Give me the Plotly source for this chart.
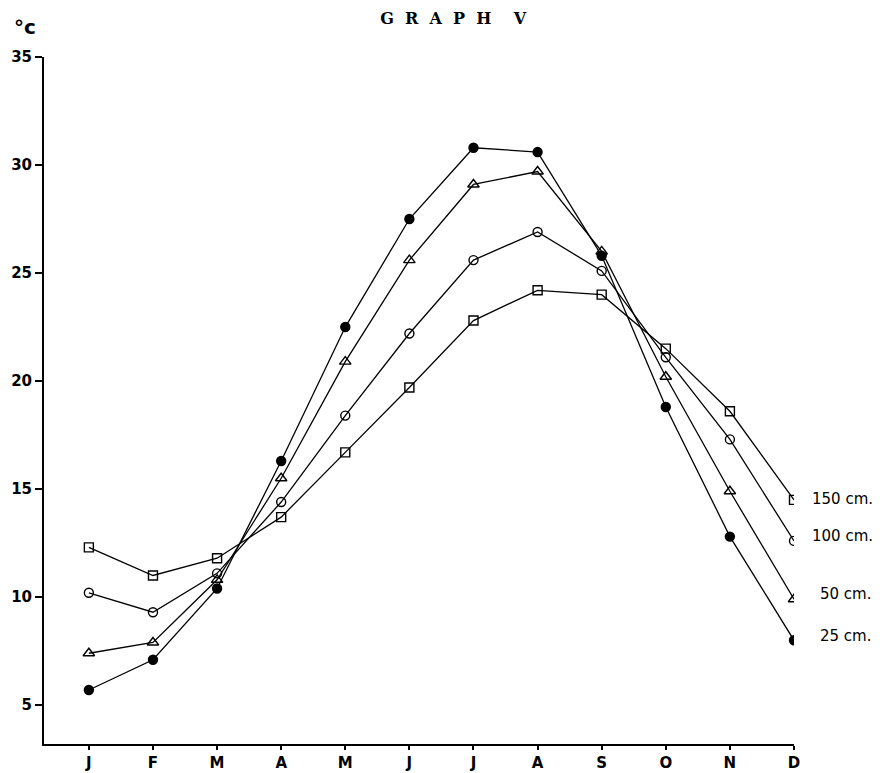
import plotly.graph_objects as go

months = ["J", "F", "M", "A", "M", "J", "J", "A", "S", "O", "N", "D"]
depth_labels = ["25 cm.", "50 cm.", "100 cm.", "150 cm."]

temp_25 = [5.7, 7.1, 10.4, 16.3, 22.5, 27.5, 30.8, 30.6, 25.8, 18.8, 12.8, 8.0]
temp_50 = [7.4, 7.9, 10.8, 15.5, 20.9, 25.6, 29.1, 29.7, 26.0, 20.2, 14.9, 9.9]
temp_100 = [10.2, 9.3, 11.1, 14.4, 18.4, 22.2, 25.6, 26.9, 25.1, 21.1, 17.3, 12.6]
temp_150 = [12.3, 11.0, 11.8, 13.7, 16.7, 19.7, 22.8, 24.2, 24.0, 21.5, 18.6, 14.5]

y_ticks = [5, 10, 15, 20, 25, 30, 35]

x = list(range(len(months)))
symbols = ["circle", "triangle-up-open", "circle-open", "square-open"]
all_series = [temp_25, temp_50, temp_100, temp_150]

fig = go.Figure()
for vals, sym, name in zip(all_series, symbols, depth_labels):
    fig.add_trace(go.Scatter(
        x=x, y=vals, mode="lines+markers", name=name,
        line=dict(color="black", width=1.3),
        marker=dict(symbol=sym, size=10 if "triangle" in sym else 9,
                    color="black", line=dict(color="black", width=1.4)),
        showlegend=False,
    ))

# depth labels beside the December points
for vals, name, dx, dy in zip(all_series, depth_labels, [24, 24, 16, 16], [4, 5, 5, 1]):
    fig.add_annotation(x=x[-1], y=vals[-1], text=name, showarrow=False,
                       xanchor="left", xshift=dx, yshift=dy,
                       font=dict(family="DejaVu Sans", size=15, color="black"))

fig.add_annotation(x=0, y=1, xref="paper", yref="paper", text="<b>°c</b>",
                   showarrow=False, xanchor="right", yanchor="bottom",
                   xshift=-6, yshift=16,
                   font=dict(family="DejaVu Sans", size=20, color="black"))

fig.update_layout(
    width=880, height=773,
    margin=dict(l=44, r=86, t=57, b=29),
    paper_bgcolor="white", plot_bgcolor="white",
    title=dict(text="<b>G  R  A  P  H    V</b>", x=0.515, xanchor="center", y=0.984, yanchor="top",
               font=dict(family="DejaVu Serif", size=16, color="black")),
    xaxis=dict(range=[-0.7, 11.0], tickmode="array", tickvals=x, ticktext=months,
               automargin=False,
               showgrid=False, zeroline=False, showline=True, linecolor="black", linewidth=2,
               ticks="outside", ticklen=4, tickcolor="black", tickwidth=1.5,
               tickfont=dict(family="DejaVu Sans", size=15, color="black", weight="bold")),
    yaxis=dict(range=[3.2, 35], tickmode="array", tickvals=y_ticks,
               automargin=False,
               showgrid=False, zeroline=False, showline=True, linecolor="black", linewidth=2,
               ticks="outside", ticklen=7, tickcolor="black", tickwidth=2,
               tickfont=dict(family="DejaVu Sans", size=15, color="black", weight="bold")),
)

fig.write_html("out.html")
